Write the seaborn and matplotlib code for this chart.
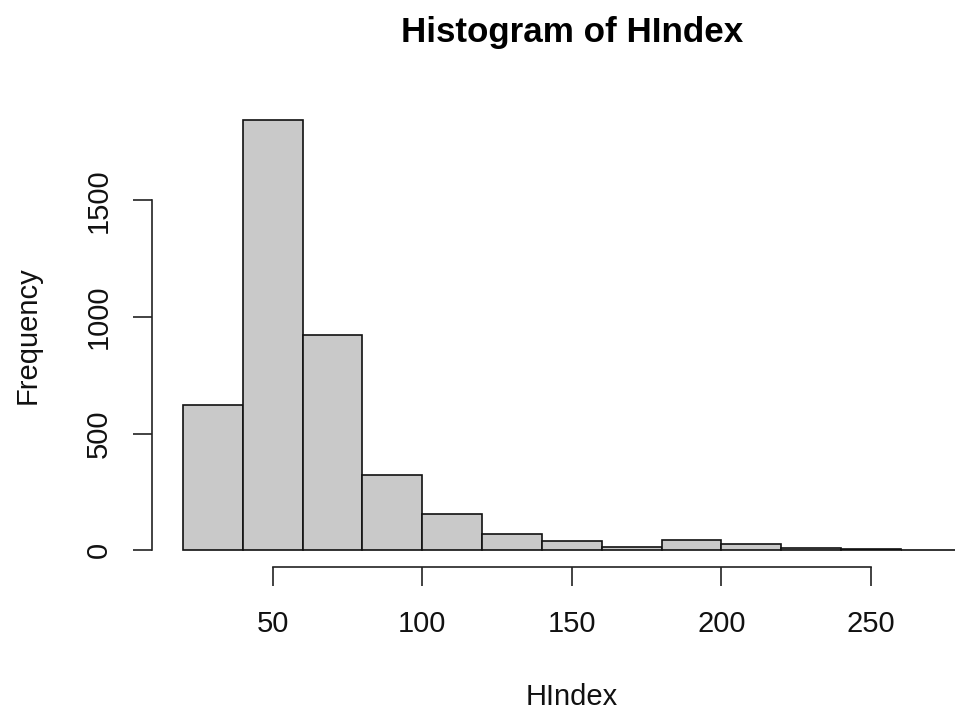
import matplotlib
matplotlib.use("Agg")
import matplotlib.pyplot as plt
import seaborn as sns

# histogram counts, bins of width 20
bin_edges = [20, 40, 60, 80, 100, 120, 140, 160, 180, 200, 220, 240, 260, 280]
counts = [624, 1845, 921, 321, 156, 70, 39, 15, 42, 26, 10, 4, 2]
bin_mids = [(a + b) / 2 for a, b in zip(bin_edges[:-1], bin_edges[1:])]
x_ticks = [50, 100, 150, 200, 250]
y_ticks = [0, 500, 1000, 1500]

sns.set_style("white")
plt.rcParams['font.family'] = ['Liberation Sans', 'DejaVu Sans']

fig = plt.figure(figsize=(9.55, 7.13), dpi=100)
ax = fig.add_axes([0.15885, 0.20407, 0.8799, 0.65175])

sns.histplot(x=bin_mids, weights=counts, bins=bin_edges, ax=ax,
             color='#c9c9c9', edgecolor='#111111', linewidth=1.2, alpha=1)

# R style extended ranges
ax.set_xlim(9.6, 290.4)
ax.set_ylim(-73.8, 1918.8)

ax.set_xticks(x_ticks)
ax.set_yticks(y_ticks)
for s in ['top', 'right']:
    ax.spines[s].set_visible(False)
ax.spines['bottom'].set_bounds(50, 250)
ax.spines['left'].set_bounds(0, 1500)
for s in ['bottom', 'left']:
    ax.spines[s].set_color('#222222')
    ax.spines[s].set_linewidth(1.2)

ax.tick_params(axis='both', direction='out', length=13.7, width=1.2,
               color='#222222', labelsize=21, labelcolor='#111111',
               bottom=True, left=True)
ax.tick_params(axis='x', pad=17)
ax.tick_params(axis='y', pad=14, labelrotation=90)
for lab in ax.get_yticklabels():
    lab.set_va('center')

ax.set_xlabel('HIndex', fontsize=21, color='#111111')
ax.xaxis.set_label_coords(0.5, -0.248)
ax.set_ylabel('Frequency', fontsize=21, color='#111111')
ax.yaxis.set_label_coords(-0.1305, 0.5)

ax.set_title('Histogram of HIndex', fontsize=25.2, fontweight='bold',
             y=1.1308, pad=0, color='#000000')

fig.savefig('out.png', dpi=100, facecolor='white')
